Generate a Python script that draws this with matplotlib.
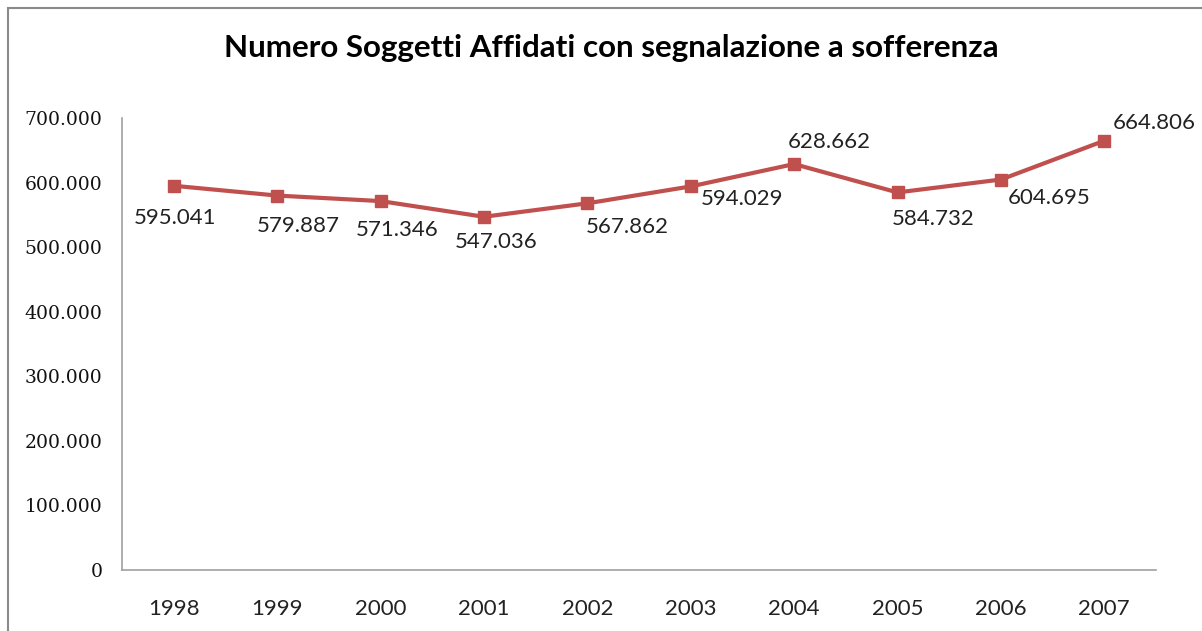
import matplotlib
matplotlib.use("Agg")
import matplotlib.pyplot as plt
from matplotlib.patches import Rectangle

years = ["1998", "1999", "2000", "2001", "2002", "2003", "2004", "2005", "2006", "2007"]
values = [595041, 579887, 571346, 547036, 567862, 594029, 628662, 584732, 604695, 664806]
value_labels = ["595.041", "579.887", "571.346", "547.036", "567.862",
                "594.029", "628.662", "584.732", "604.695", "664.806"]
ytick_values = [0, 100000, 200000, 300000, 400000, 500000, 600000, 700000]
ytick_labels = ["0", "100.000", "200.000", "300.000", "400.000", "500.000", "600.000", "700.000"]
title = "Numero Soggetti Affidati con segnalazione a sofferenza"

# label offsets in points (style only)
label_offsets = [(1, -23), (15, -22), (12, -21), (9, -18), (29, -17),
                 (37, -9), (25, 16), (26, -19), (35, -13), (36, 13)]

W, H = 1202, 631
fig = plt.figure(figsize=(W / 100, H / 100), dpi=100)
fig.patch.set_facecolor("white")
fig.patches.append(Rectangle((8 / W, -0.1), 1.2, 1 - 8 / H + 0.1, transform=fig.transFigure,
                             fill=False, edgecolor="#8a8a8a", linewidth=1.5))

ax = fig.add_axes([122 / W, (H - 570) / H, (1156 - 122) / W, (570 - 118) / H])
x = list(range(len(years)))
color = "#C0504D"
ax.plot(x, values, color=color, linewidth=3, marker="s", markersize=8.5, zorder=3)
ax.set_xlim(-0.5, len(years) - 0.5)
ax.set_ylim(0, 700000)
ax.set_yticks(ytick_values)
ax.set_yticklabels(ytick_labels, family="DejaVu Serif", fontsize=13.5, color="#111111")
ax.set_xticks(x)
ax.set_xticklabels(years, family="Lato", fontsize=16, color="#222222")
ax.tick_params(axis="both", length=0)
ax.tick_params(axis="y", pad=14)
ax.tick_params(axis="x", pad=21)
for s in ["top", "right"]:
    ax.spines[s].set_visible(False)
for s in ["left", "bottom"]:
    ax.spines[s].set_color("#a0a0a0")
    ax.spines[s].set_linewidth(1.2)

for xi, v, lab, off in zip(x, values, value_labels, label_offsets):
    ax.annotate(lab, (xi, v), xytext=off, textcoords="offset points",
                ha="center", va="center", family="Lato", fontsize=16, color="#222222")

fig.text(611 / W, 1 - 48 / H, title, ha="center", va="center",
         family="Lato", fontweight="bold", fontsize=22.6, color="black")

fig.savefig("out.png", dpi=100)
